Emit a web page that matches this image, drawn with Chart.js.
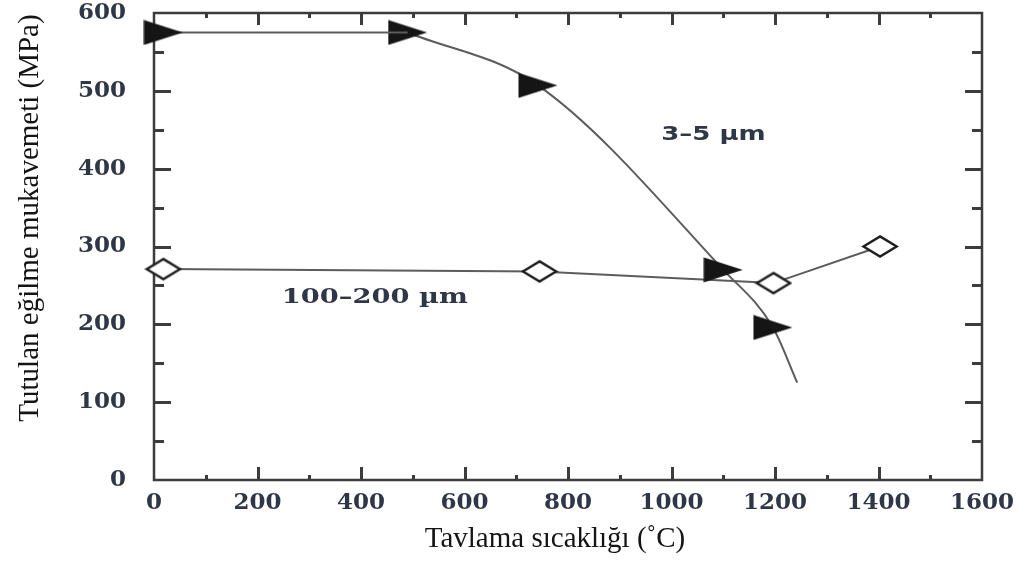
<!DOCTYPE html>
<html>
<head>
<meta charset="utf-8">
<script src="https://cdn.jsdelivr.net/npm/chart.js@4.4.0/dist/chart.umd.min.js"></script>
<style>
  html, body { margin: 0; padding: 0; background: #ffffff; }
  #wrap { position: relative; width: 1029px; height: 563px; }
</style>
</head>
<body>
<div id="wrap"><canvas id="c" width="1029" height="563"></canvas></div>
<script>
// Fine grain (3–5 µm) series: annealing temperature (°C) vs retained flexural strength (MPa)
const fineTemps    = [18, 490, 742, 1100, 1196, 1243];
const fineStrength = [575, 575, 507, 270, 196, 125];
const fineMarked   = [true, true, true, true, true, false];

// Coarse grain (100–200 µm) series
const coarseTemps    = [18, 745, 1197, 1403];
const coarseStrength = [271, 268, 253, 300];

// Axis ranges and tick steps
const xRange = [0, 1600];
const yRange = [0, 600];
const xMajorStep = 200, xMinorStep = 100;
const yMajorStep = 100, yMinorStep = 50;

// Texts
const xTitle = 'Tavlama sıcaklığı (˚C)';
const yTitle = 'Tutulan eğilme mukavemeti (MPa)';
const fineLabel = '3–5 µm';
const coarseLabel = '100–200 µm';
const fineLabelPos = [980, 443];
const coarseLabelPos = [247, 234];

const tickFont = 'DejaVu Serif';
const textColor = '#2f3747';
const lineColor = '#5c5c5c';

function triangleMarker(w, h) {
  const c = document.createElement('canvas');
  c.width = w; c.height = h;
  const g = c.getContext('2d');
  g.fillStyle = '#151515';
  g.beginPath();
  g.moveTo(0.5, 0.5);
  g.lineTo(w - 0.5, h / 2);
  g.lineTo(0.5, h - 0.5);
  g.closePath();
  g.fill();
  return c;
}

function diamondMarker(w, h) {
  const c = document.createElement('canvas');
  c.width = w; c.height = h;
  const g = c.getContext('2d');
  const lw = 2.4;
  g.fillStyle = '#ffffff';
  g.strokeStyle = '#1e1e1e';
  g.lineWidth = lw;
  g.beginPath();
  g.moveTo(w / 2, lw);
  g.lineTo(w - lw, h / 2);
  g.lineTo(w / 2, h - lw);
  g.lineTo(lw, h / 2);
  g.closePath();
  g.fill();
  g.stroke();
  return c;
}

const tri = triangleMarker(40, 26);
const dia = diamondMarker(38, 25);

const pts = (xs, ys) => xs.map((t, i) => ({ x: t, y: ys[i] }));

const frameAndTicks = {
  id: 'frameAndTicks',
  beforeDatasetsDraw(chart) {
    const { ctx, chartArea: a, scales: { x, y } } = chart;
    ctx.save();
    ctx.strokeStyle = '#3c3c3c';
    ctx.lineWidth = 2.5;
    ctx.strokeRect(a.left, a.top, a.right - a.left, a.bottom - a.top);
    ctx.lineWidth = 3;
    ctx.lineCap = 'butt';
    ctx.beginPath();
    for (let v = xRange[0] + xMinorStep; v < xRange[1]; v += xMinorStep) {
      const px = Math.round(x.getPixelForValue(v)) + 0.5;
      const major = v % xMajorStep === 0;
      const lb = major ? 13 : 5;
      const lt = major ? 12 : 5;
      ctx.moveTo(px, a.bottom); ctx.lineTo(px, a.bottom - lb);
      ctx.moveTo(px, a.top); ctx.lineTo(px, a.top + lt);
    }
    for (let v = yRange[0] + yMinorStep; v < yRange[1]; v += yMinorStep) {
      const py = Math.round(y.getPixelForValue(v)) + 0.5;
      const major = v % yMajorStep === 0;
      const l = major ? 17 : 10;
      ctx.moveTo(a.left, py); ctx.lineTo(a.left + l, py);
      ctx.moveTo(a.right, py); ctx.lineTo(a.right - l, py);
    }
    ctx.stroke();
    ctx.restore();
  },
  afterDatasetsDraw(chart) {
    const { ctx, scales: { x, y } } = chart;
    const wideText = (txt, font, px, py, sx) => {
      ctx.save();
      ctx.font = font;
      ctx.translate(px, py);
      ctx.scale(sx, 1);
      ctx.fillText(txt, 0, 0);
      ctx.restore();
    };
    ctx.save();
    ctx.fillStyle = textColor;
    ctx.textBaseline = 'middle';
    ctx.textAlign = 'left';
    wideText(fineLabel, 'bold 20px "DejaVu Sans"',
      x.getPixelForValue(fineLabelPos[0]), y.getPixelForValue(fineLabelPos[1]), 1.3);
    wideText(coarseLabel, 'bold 21px "DejaVu Serif"',
      x.getPixelForValue(coarseLabelPos[0]), y.getPixelForValue(coarseLabelPos[1]), 1.3);

    // axis titles
    ctx.fillStyle = '#141414';
    ctx.font = '29px "Liberation Serif"';
    ctx.textBaseline = 'alphabetic';
    ctx.textAlign = 'center';
    ctx.fillText(xTitle, 555, 547);
    ctx.translate(38, 218);
    ctx.rotate(-Math.PI / 2);
    ctx.fillText(yTitle, 0, 0);
    ctx.restore();
  }
};

new Chart(document.getElementById('c'), {
  type: 'line',
  data: {
    datasets: [
      {
        // flat stretch of the fine-grain curve up to its second point
        label: fineLabel,
        data: pts(fineTemps.slice(0, 2), fineStrength.slice(0, 2)),
        borderColor: lineColor,
        borderWidth: 2,
        tension: 0,
        pointStyle: tri,
        pointRadius: [10, 0],
        clip: false
      },
      {
        // falling part of the fine-grain curve
        label: fineLabel,
        data: pts(fineTemps.slice(1), fineStrength.slice(1)),
        borderColor: lineColor,
        borderWidth: 2,
        cubicInterpolationMode: 'monotone',
        pointStyle: tri,
        pointRadius: fineMarked.slice(1).map(m => (m ? 10 : 0)),
        clip: false
      },
      {
        label: coarseLabel,
        data: pts(coarseTemps, coarseStrength),
        borderColor: lineColor,
        borderWidth: 2,
        tension: 0,
        pointStyle: dia,
        pointRadius: 10,
        clip: false
      }
    ]
  },
  options: {
    responsive: false,
    animation: false,
    devicePixelRatio: 1,
    layout: { padding: { top: 13, right: 47, left: 0, bottom: 0 } },
    plugins: { legend: { display: false }, tooltip: { enabled: false } },
    scales: {
      x: {
        type: 'linear',
        min: xRange[0], max: xRange[1],
        grid: { display: false, drawTicks: false },
        border: { display: false },
        ticks: {
          stepSize: xMajorStep,
          padding: 9,
          color: textColor,
          font: { family: tickFont, size: 23, weight: 'bold' },
          maxRotation: 0,
          callback: v => String(v)
        },
        afterFit(s) { s.height = 83; s.paddingLeft = 0; s.paddingRight = 0; }
      },
      y: {
        type: 'linear',
        min: yRange[0], max: yRange[1],
        grid: { display: false, drawTicks: false },
        border: { display: false },
        ticks: {
          stepSize: yMajorStep,
          padding: 28,
          color: textColor,
          font: { family: tickFont, size: 23, weight: 'bold' },
          callback: v => String(v)
        },
        afterFit(s) { s.width = 154; s.paddingTop = 0; s.paddingBottom = 0; }
      }
    }
  },
  plugins: [frameAndTicks]
});
</script>
</body>
</html>
